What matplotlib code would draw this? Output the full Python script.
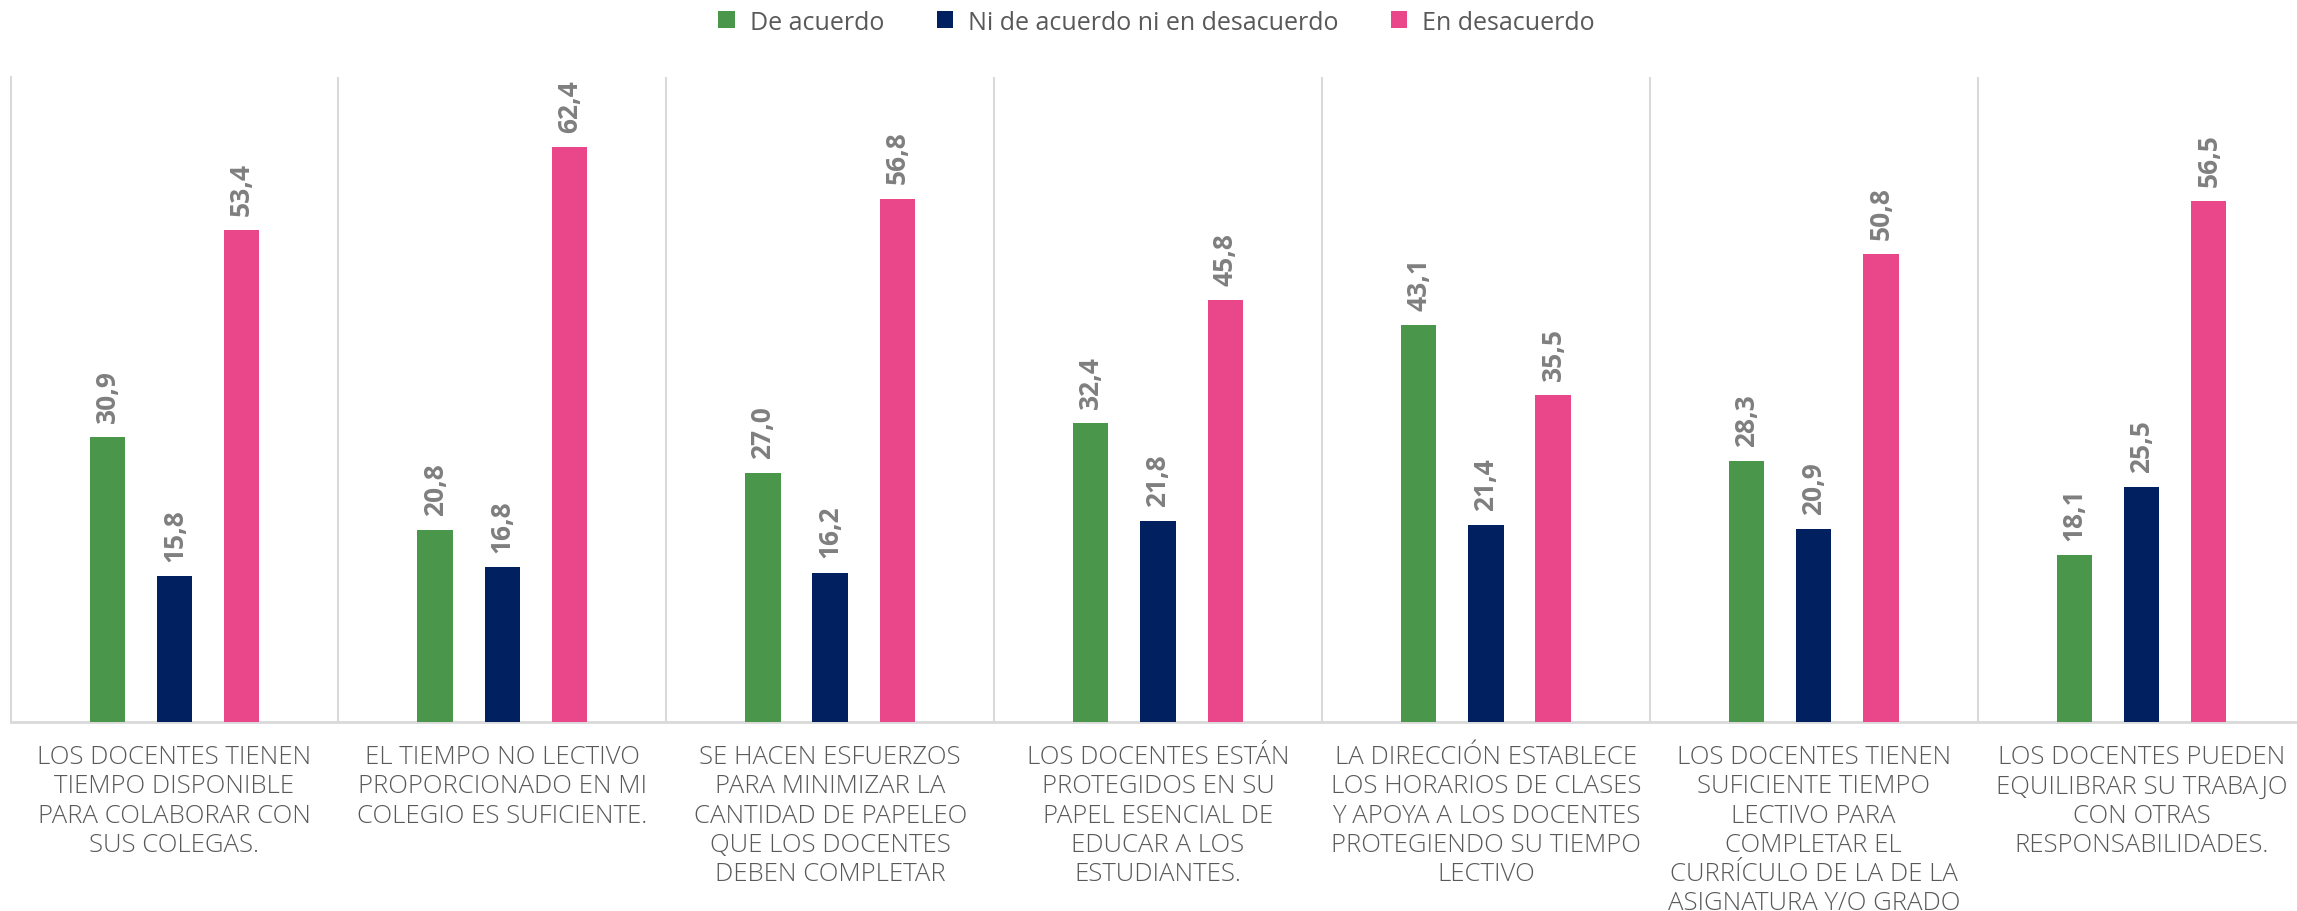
import matplotlib
matplotlib.use("Agg")
import matplotlib.pyplot as plt
import numpy as np

categories = [
    "LOS DOCENTES TIENEN\nTIEMPO DISPONIBLE\nPARA COLABORAR CON\nSUS COLEGAS.",
    "EL TIEMPO NO LECTIVO\nPROPORCIONADO EN MI\nCOLEGIO ES SUFICIENTE.",
    "SE HACEN ESFUERZOS\nPARA MINIMIZAR LA\nCANTIDAD DE PAPELEO\nQUE LOS DOCENTES\nDEBEN COMPLETAR",
    "LOS DOCENTES ESTÁN\nPROTEGIDOS EN SU\nPAPEL ESENCIAL DE\nEDUCAR A LOS\nESTUDIANTES.",
    "LA DIRECCIÓN ESTABLECE\nLOS HORARIOS DE CLASES\nY APOYA A LOS DOCENTES\nPROTEGIENDO SU TIEMPO\nLECTIVO",
    "LOS DOCENTES TIENEN\nSUFICIENTE TIEMPO\nLECTIVO PARA\nCOMPLETAR EL\nCURRÍCULO DE LA DE LA\nASIGNATURA Y/O GRADO",
    "LOS DOCENTES PUEDEN\nEQUILIBRAR SU TRABAJO\nCON OTRAS\nRESPONSABILIDADES.",
]
series_names = ["De acuerdo", "Ni de acuerdo ni en desacuerdo", "En desacuerdo"]
de_acuerdo = [30.9, 20.8, 27.0, 32.4, 43.1, 28.3, 18.1]
ni_ni = [15.8, 16.8, 16.2, 21.8, 21.4, 20.9, 25.5]
en_desacuerdo = [53.4, 62.4, 56.8, 45.8, 35.5, 50.8, 56.5]
colors = ["#4a974c", "#002060", "#e94789"]

plt.rcParams['font.family'] = ['Open Sans', 'DejaVu Sans']

fig = plt.figure(figsize=(22.97, 9.12), dpi=100)
ax = fig.add_axes([10.5/2297, 1 - 723/912, 2295/2297, (723-78)/912])

x = np.arange(len(categories))
width = 0.108
offsets = [-0.205, 0.0, 0.205]
for vals, name, col, off in zip([de_acuerdo, ni_ni, en_desacuerdo], series_names, colors, offsets):
    bars = ax.bar(x + off, vals, width, color=col, label=name, zorder=3)
    ax.bar_label(bars, labels=[f"{v:.1f}".replace('.', ',') for v in vals],
                 rotation=90, padding=11, fontsize=19, fontweight='bold', color='#7f7f7f')

ax.set_xlim(-0.5, len(categories) - 0.5)
ax.set_ylim(0, 70)
ax.set_yticks([])
ax.set_xticks(x)
ax.set_xticklabels(categories, fontsize=18.5, color='#595959', linespacing=1.22,
                   fontweight='light')
ax.tick_params(axis='x', length=0, pad=16)

for s in ['top', 'right']:
    ax.spines[s].set_visible(False)
ax.spines['left'].set_color('#d9d9d9')
ax.spines['left'].set_linewidth(1.5)
ax.spines['bottom'].set_color('#d9d9d9')
ax.spines['bottom'].set_linewidth(2)

for b in np.arange(0.5, len(categories) - 0.5, 1.0):
    ax.axvline(b, color='#d9d9d9', linewidth=1.5, zorder=1)

fig.legend(loc='center', bbox_to_anchor=(0.5035, 1 - 23/912), ncol=3, frameon=False,
           fontsize=18, handlelength=0.65, handleheight=0.65, columnspacing=2.1,
           handletextpad=0.6, labelcolor='#595959')

fig.savefig("out.png", dpi=100)
